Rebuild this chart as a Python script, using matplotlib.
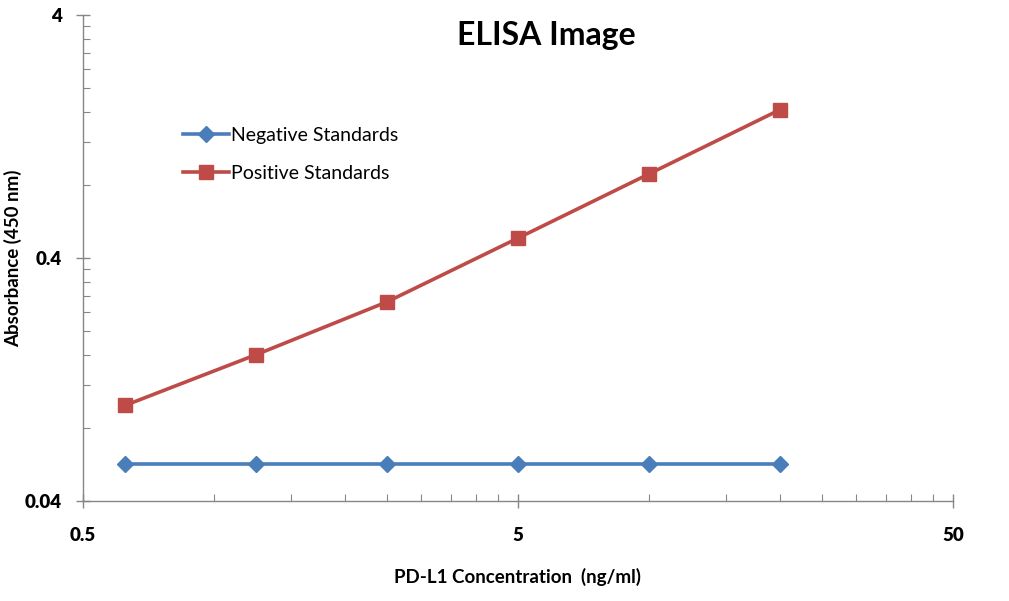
import matplotlib
matplotlib.use("Agg")
import matplotlib.pyplot as plt
from matplotlib.ticker import FixedLocator, NullFormatter
import numpy as np

concentration = [0.625, 1.25, 2.5, 5, 10, 20]
negative = [0.057, 0.057, 0.057, 0.057, 0.057, 0.057]
positive = [0.099, 0.160, 0.264, 0.483, 0.887, 1.63]
x_ticks = [0.5, 5, 50]
x_ticklabels = ["0.5", "5", "50"]
y_ticks = [0.04, 0.4, 4]
y_ticklabels = ["0.04", "0.4", "4"]

plt.rcParams['font.family'] = ['Lato', 'DejaVu Sans']

fig = plt.figure(figsize=(10.09, 6.01), dpi=100)
W, H = 1009, 601
ax = fig.add_axes([83 / W, (H - 501) / H, (953 - 83) / W, (501 - 15) / H])

blue = '#4A7EBB'
red = '#BE4B48'
ax.plot(concentration, negative, color=blue, lw=2.6, marker='D', ms=8.5,
        label='Negative Standards', zorder=3)
ax.plot(concentration, positive, color=red, lw=2.6, marker='s', ms=10,
        label='Positive Standards', zorder=3)

ax.set_xscale('log')
ax.set_yscale('log')
ax.set_xlim(0.5, 50)
ax.set_ylim(0.04, 4)

ax.xaxis.set_major_locator(FixedLocator(x_ticks))
ax.set_xticklabels(x_ticklabels)
ax.yaxis.set_major_locator(FixedLocator(y_ticks))
ax.set_yticklabels(y_ticklabels)
xminor = np.concatenate([0.5 * np.arange(2, 10), 5 * np.arange(2, 10)])
yminor = np.concatenate([0.04 * np.arange(2, 10), 0.4 * np.arange(2, 10)])
ax.xaxis.set_minor_locator(FixedLocator(xminor))
ax.yaxis.set_minor_locator(FixedLocator(yminor))
ax.xaxis.set_minor_formatter(NullFormatter())
ax.yaxis.set_minor_formatter(NullFormatter())

for s in ['top', 'right']:
    ax.spines[s].set_visible(False)
for s in ['left', 'bottom']:
    ax.spines[s].set_color('#868686')
    ax.spines[s].set_linewidth(1.0)

ax.tick_params(axis='both', which='major', direction='inout', length=10,
               color='#868686', width=1.0, labelsize=13.5)
ax.tick_params(axis='both', which='minor', direction='in', length=5,
               color='#868686', width=0.8)
ax.tick_params(axis='x', which='major', pad=14)
ax.tick_params(axis='y', which='major', pad=10)
for lbl in ax.get_xticklabels() + ax.get_yticklabels():
    lbl.set_fontweight('heavy')

fig.text(518 / W, 1 - 577 / H, 'PD-L1 Concentration  (ng/ml)', fontsize=13.5,
         fontweight='bold', ha='center', va='center')
fig.text(13 / W, 1 - 258 / H, 'Absorbance (450 nm)', fontsize=13.5,
         fontweight='bold', ha='center', va='center', rotation=90)
fig.text(546 / W, 1 - 36 / H, 'ELISA Image', fontsize=23, fontweight='bold',
         ha='center', va='center')

leg = ax.legend(loc='upper left', bbox_to_anchor=((175 - 83) / 870, (501 - 119) / 486),
                frameon=False, fontsize=14, handlelength=2.4, handletextpad=0.1,
                labelspacing=1.1, borderaxespad=0)

fig.savefig('out.png', dpi=100)
